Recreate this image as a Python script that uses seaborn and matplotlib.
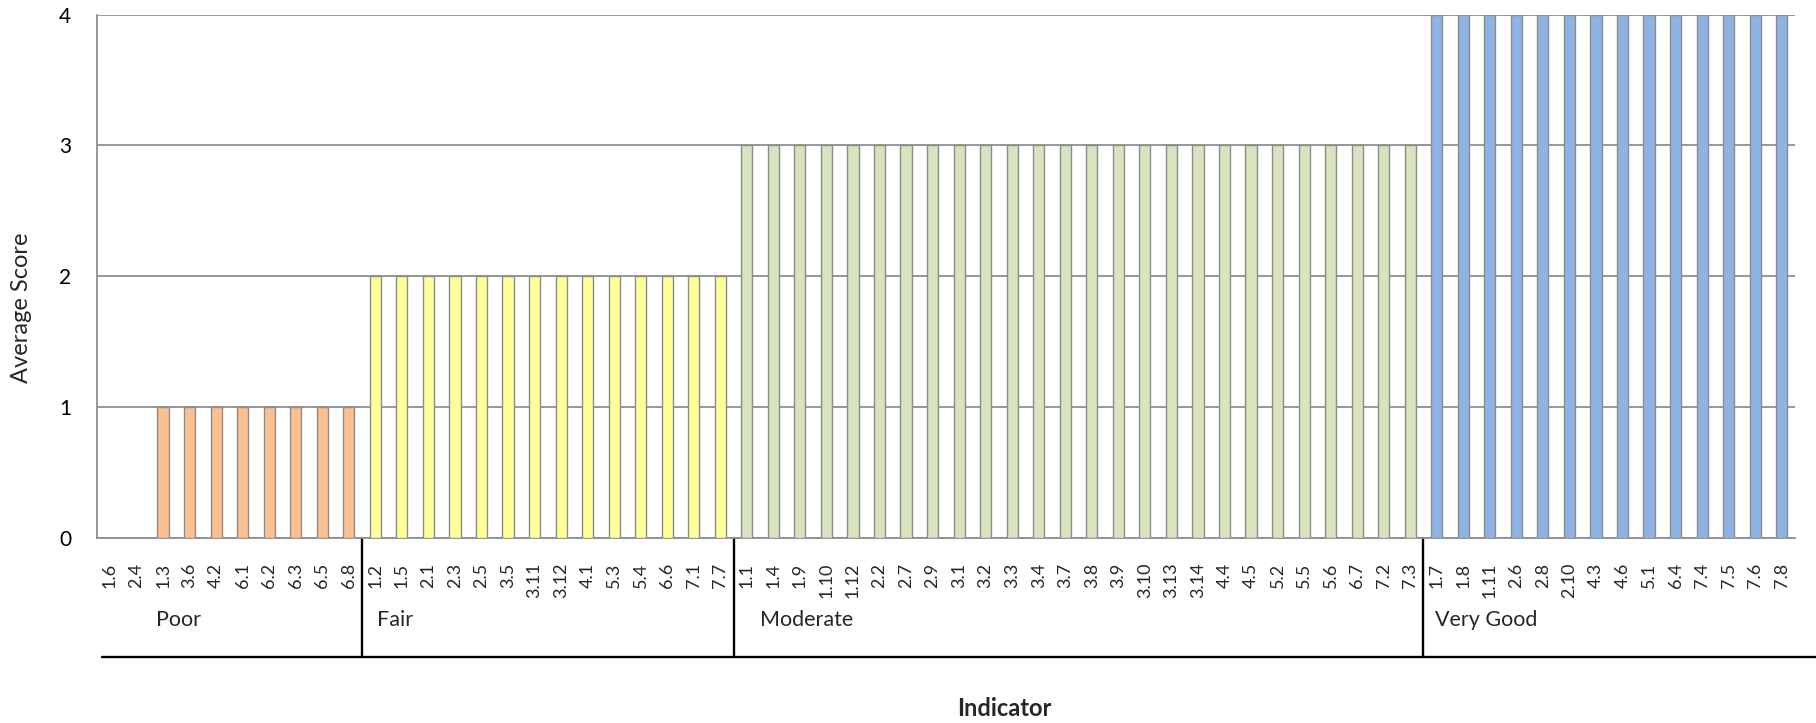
import matplotlib
matplotlib.use("Agg")
import matplotlib.pyplot as plt
import matplotlib.transforms as mtransforms
import seaborn as sns
import pandas as pd
import numpy as np

# ---- data ----
poor_ind = ["1.6", "2.4", "1.3", "3.6", "4.2", "6.1", "6.2", "6.3", "6.5", "6.8"]
poor_val = [0, 0, 1, 1, 1, 1, 1, 1, 1, 1]
fair_ind = ["1.2", "1.5", "2.1", "2.3", "2.5", "3.5", "3.11", "3.12", "4.1", "5.3", "5.4", "6.6", "7.1", "7.7"]
fair_val = [2] * 14
moderate_ind = ["1.1", "1.4", "1.9", "1.10", "1.12", "2.2", "2.7", "2.9", "3.1", "3.2", "3.3", "3.4", "3.7",
                "3.8", "3.9", "3.10", "3.13", "3.14", "4.4", "4.5", "5.2", "5.5", "5.6", "6.7", "7.2", "7.3"]
moderate_val = [3] * 26
verygood_ind = ["1.7", "1.8", "1.11", "2.6", "2.8", "2.10", "4.3", "4.6", "5.1", "6.4", "7.4", "7.5", "7.6", "7.8"]
verygood_val = [4] * 14

groups = ["Poor", "Fair", "Moderate", "Very Good"]
group_inds = [poor_ind, fair_ind, moderate_ind, verygood_ind]
group_vals = [poor_val, fair_val, moderate_val, verygood_val]
colors = {"Poor": "#FAC090", "Fair": "#FFFF99", "Moderate": "#D7E4BD", "Very Good": "#8EB4E3"}
label_offsets = [2.25, 0.55, 0.98, 0.45]  # where group labels start (in categories from group start)

rows = []
for g, inds, vals in zip(groups, group_inds, group_vals):
    for i, v in zip(inds, vals):
        rows.append({"Indicator": i, "Score": v, "Group": g})
df = pd.DataFrame(rows)
df["pos"] = [str(k) for k in range(len(df))]  # unique category keys
n = len(df)

font = ["Lato", "DejaVu Sans"]
sns.set_style("white")
plt.rcParams["font.family"] = font

W, H = 1816, 723
fig = plt.figure(figsize=(W / 100, H / 100), dpi=100)
ax_left, ax_right, ax_top, ax_bottom = 96.7, 1795, 14.7, 537.5
ax = fig.add_axes([ax_left / W, 1 - ax_bottom / H, (ax_right - ax_left) / W, (ax_bottom - ax_top) / H])

sns.barplot(data=df, x="pos", y="Score", hue="Group", palette=colors, dodge=False, saturation=1,
            width=0.42, edgecolor="#8C8C8C", linewidth=1.0, legend=False, ax=ax, zorder=3)

ax.set_xlim(-0.5, n - 0.5)
ax.set_ylim(0, 4)
ax.set_yticks([0, 1, 2, 3, 4])
ax.yaxis.grid(True, color="#8F8F8F", linewidth=1.3, zorder=0)
ax.set_axisbelow(True)

for s in ["top", "right"]:
    ax.spines[s].set_visible(False)
for s in ["left", "bottom"]:
    ax.spines[s].set_color("#8F8F8F")
    ax.spines[s].set_linewidth(1.3)

ax.tick_params(axis="y", which="major", length=6, width=1.3, color="#8F8F8F",
               labelsize=15, pad=12.5, labelcolor="#000000")
ax.set_xticks(range(n))
ax.set_xticklabels(df["Indicator"], rotation=90, fontsize=13)
ax.tick_params(axis="x", which="major", length=0, pad=18)
ax.set_xticks(np.arange(-0.5, n, 1.0), minor=True)
ax.tick_params(axis="x", which="minor", length=4.3, width=1.3, color="#8F8F8F", direction="out")

ax.set_xlabel("")
ax.set_ylabel("Average Score", fontsize=17)
ax.yaxis.set_label_coords(-0.0383, 0.44)

trans = mtransforms.blended_transform_factory(ax.transData, ax.transAxes)
ax_h = ax_bottom - ax_top
line_y = (ax_bottom - 656.7) / ax_h
label_y = (ax_bottom - 620) / ax_h
start = 0
for k, (g, inds) in enumerate(zip(groups, group_inds)):
    if k > 0:
        ax.plot([start - 0.5, start - 0.5], [0, line_y], transform=trans, color="black",
                linewidth=1.7, clip_on=False)
    ax.text(start - 0.5 + label_offsets[k], label_y, g, transform=trans, fontsize=15.5,
            ha="left", va="center")
    start += len(inds)

ax.plot([(102 - ax_left) / (ax_right - ax_left), (W - ax_left) / (ax_right - ax_left)],
        [line_y, line_y], transform=ax.transAxes, color="black", linewidth=1.7, clip_on=False)

fig.text(1004 / W, 1 - 708 / H, "Indicator", fontsize=17, fontweight="bold",
         ha="center", va="center")

fig.savefig("out.png", dpi=100)
